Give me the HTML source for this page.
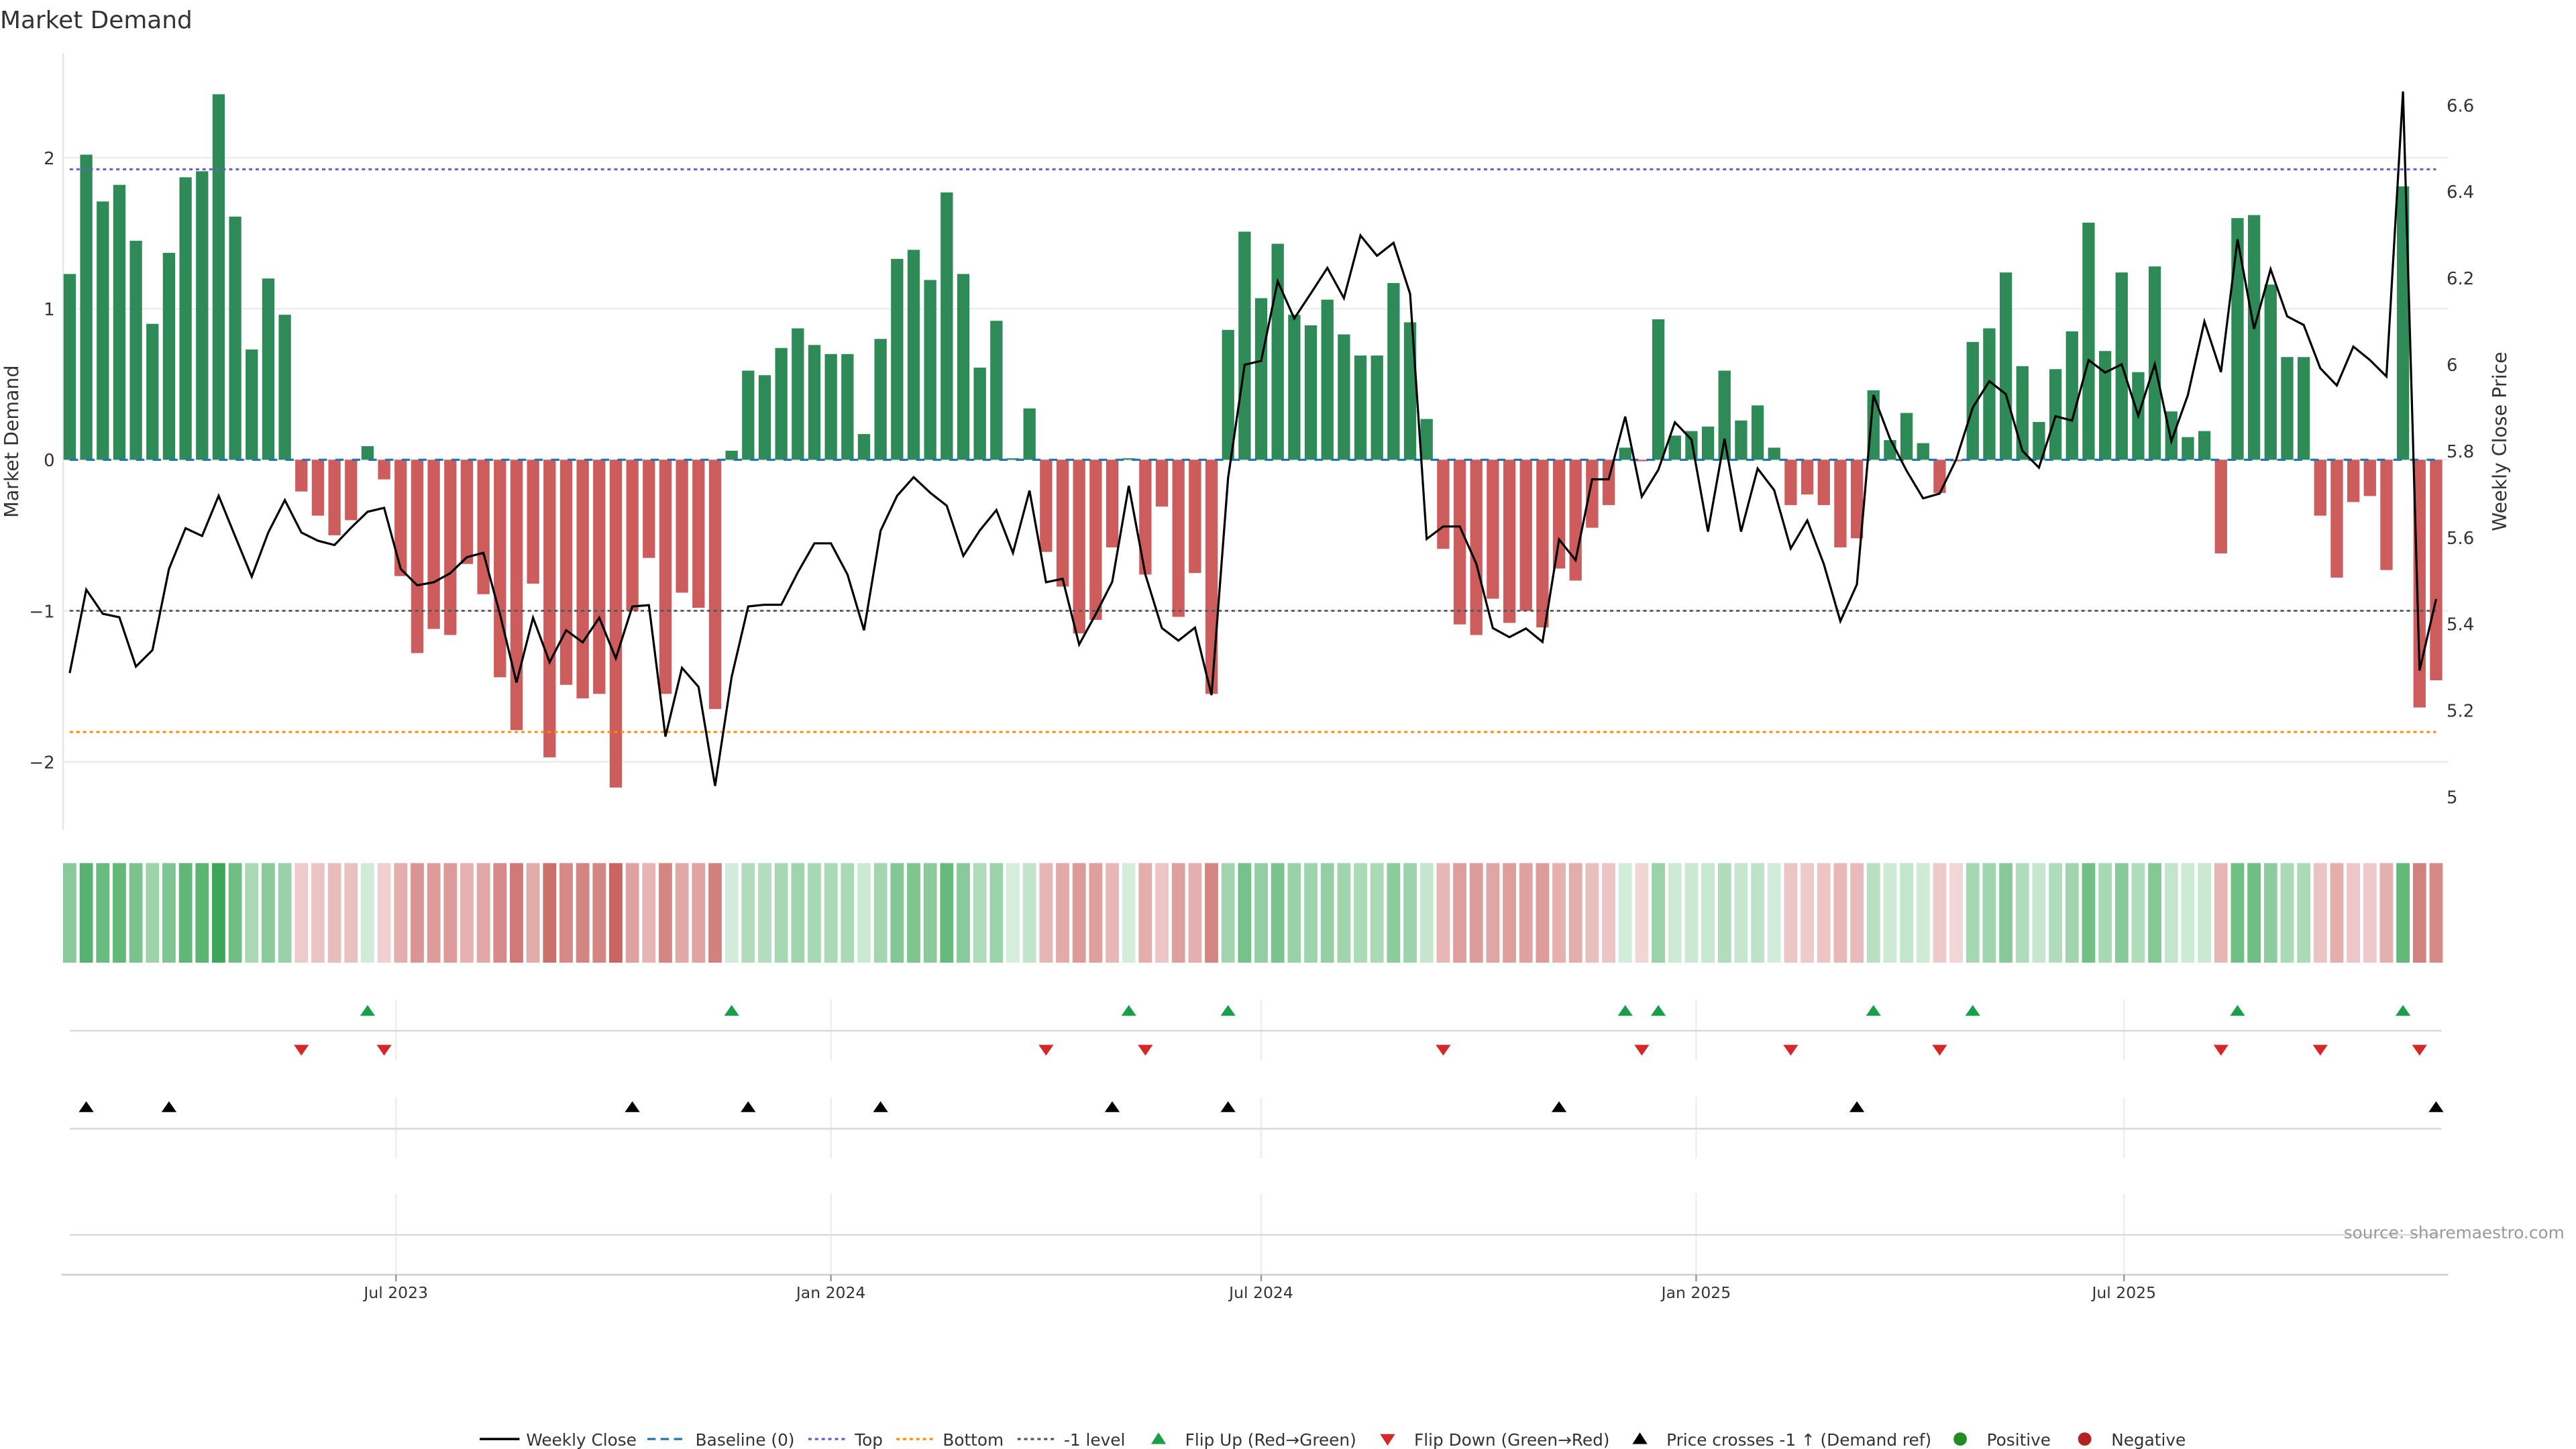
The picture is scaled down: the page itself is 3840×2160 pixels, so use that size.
<!DOCTYPE html>
<html><head><meta charset="utf-8"><title>Market Demand</title>
<style>
html,body{margin:0;padding:0;background:#fff;}
svg{display:block;font-family:"DejaVu Sans","Liberation Sans",sans-serif;}
</style></head>
<body>
<svg id="chart" width="3840" height="2160" viewBox="0 0 1552 873" preserveAspectRatio="none" xmlns="http://www.w3.org/2000/svg">
<text x="0" y="17" font-size="14.5" fill="#333">Market Demand</text>
<text transform="translate(11,266) rotate(-90)" text-anchor="middle" font-size="11.5" fill="#333">Market Demand</text>
<text transform="translate(1510,266) rotate(-90)" text-anchor="middle" font-size="11.5" fill="#333">Weekly Close Price</text>
<line x1="38" y1="32" x2="38" y2="500" stroke="#e6e6e6" stroke-width="1"/>
<g id="grid"></g>
<g id="bars"></g>
<g id="refs"></g>
<g id="price"></g>
<g id="heat"></g>
<g id="events"></g>
<g id="xaxis"></g>
<text x="1545" y="746" text-anchor="end" font-size="10" fill="#999">source: sharemaestro.com</text>
<g id="legend" font-size="10" fill="#333">
  <line x1="289" y1="867" x2="313" y2="867" stroke="#000" stroke-width="1.4"/>
  <text x="317" y="871">Weekly Close</text>
  <line x1="390" y1="867" x2="413" y2="867" stroke="#1f77b4" stroke-width="1.3" stroke-dasharray="5,3"/>
  <text x="419" y="871">Baseline (0)</text>
  <line x1="487" y1="867" x2="510" y2="867" stroke="#6a5acd" stroke-width="1.3" stroke-dasharray="2,2"/>
  <text x="515" y="871">Top</text>
  <line x1="540" y1="867" x2="563" y2="867" stroke="#ff8c00" stroke-width="1.3" stroke-dasharray="2,2"/>
  <text x="568" y="871">Bottom</text>
  <line x1="613" y1="867" x2="636" y2="867" stroke="#555" stroke-width="1.3" stroke-dasharray="2,2"/>
  <text x="641" y="871">-1 level</text>
  <polygon points="698,863 702.5,870 693.5,870" fill="#1a9e4a"/>
  <text x="714" y="871">Flip Up (Red→Green)</text>
  <polygon points="836,871 840.5,864 831.5,864" fill="#d62728"/>
  <text x="852" y="871">Flip Down (Green→Red)</text>
  <polygon points="988,863 992.5,870 983.5,870" fill="#000"/>
  <text x="1004" y="871">Price crosses -1 ↑ (Demand ref)</text>
  <circle cx="1181" cy="867" r="4" fill="#228b22"/>
  <text x="1197" y="871">Positive</text>
  <circle cx="1256" cy="867" r="4" fill="#b22222"/>
  <text x="1272" y="871">Negative</text>
</g>
</svg>
<script>
// ---- data ----
const startDate = "2023-02-13";
const demand = [1.23,2.02,1.71,1.82,1.45,0.90,1.37,1.87,1.91,2.42,1.61,0.73,1.20,0.96,
-0.21,-0.37,-0.50,-0.40,0.09,-0.13,-0.77,-1.28,-1.12,-1.16,-0.69,-0.89,-1.44,-1.79,-0.82,-1.97,-1.49,-1.58,-1.55,-2.17,-1.00,-0.65,-1.55,-0.88,-0.98,-1.65,
0.06,0.59,0.56,0.74,0.87,0.76,0.70,0.70,0.17,0.80,1.33,1.39,1.19,1.77,1.23,0.61,0.92,0.01,0.34,
-0.61,-0.84,-1.15,-1.06,-0.58,0.01,-0.76,-0.31,-1.04,-0.75,-1.55,
0.86,1.51,1.07,1.43,0.96,0.89,1.06,0.83,0.69,0.69,1.17,0.91,0.27,
-0.59,-1.09,-1.16,-0.92,-1.08,-1.00,-1.11,-0.72,-0.80,-0.45,-0.30,
0.08,-0.01,0.93,0.16,0.19,0.22,0.59,0.26,0.36,0.08,
-0.30,-0.23,-0.30,-0.58,-0.52,0.46,0.13,0.31,0.11,-0.22,-0.01,
0.78,0.87,1.24,0.62,0.25,0.60,0.85,1.57,0.72,1.24,0.58,1.28,0.32,0.15,0.19,
-0.62,1.60,1.62,1.16,0.68,0.68,-0.37,-0.78,-0.28,-0.24,-0.73,1.81,-1.64,-1.46];
const closePrice = [5.286,5.479,5.423,5.415,5.301,5.339,5.527,5.621,5.603,5.696,5.602,5.509,5.611,5.686,5.611,5.592,5.582,5.622,5.659,5.668,
5.527,5.489,5.496,5.517,5.554,5.564,5.422,5.264,5.414,5.311,5.385,5.357,5.414,5.320,5.440,5.443,5.139,5.298,5.254,5.025,
5.277,5.440,5.444,5.444,5.519,5.586,5.586,5.514,5.385,5.615,5.696,5.739,5.703,5.673,5.557,5.616,5.663,5.564,5.708,5.496,
5.504,5.352,5.422,5.497,5.719,5.514,5.390,5.361,5.391,5.235,5.737,5.999,6.008,6.192,6.106,6.164,6.223,6.153,6.298,6.251,
6.281,6.163,5.596,5.625,5.625,5.539,5.390,5.369,5.389,5.358,5.595,5.547,5.734,5.734,5.879,5.694,5.756,5.866,5.826,5.613,
5.828,5.613,5.759,5.709,5.574,5.639,5.538,5.406,5.491,5.929,5.828,5.754,5.690,5.701,5.780,5.900,5.961,5.931,5.800,5.761,
5.880,5.870,6.010,5.981,6.000,5.881,6.000,5.822,5.929,6.099,5.982,6.289,6.082,6.220,6.111,6.091,5.991,5.951,6.041,6.010,
5.972,6.631,5.292,5.457];
const leftTicks = [-2,-1,0,1,2];
const rightTicks = [5,5.2,5.4,5.6,5.8,6,6.2,6.4,6.6];
const rightTickLabels = ["5","5.2","5.4","5.6","5.8","6","6.2","6.4","6.6"];
const xTickDates = ["2023-07-01","2024-01-01","2024-07-01","2025-01-01","2025-07-01"];
const xTickLabels = ["Jul 2023","Jan 2024","Jul 2024","Jan 2025","Jul 2025"];
const topLevel = 1.923, bottomLevel = -1.802, minusLevel = -1;

// ---- scales ----
const NS = "http://www.w3.org/2000/svg";
const t0 = Date.parse(startDate);
const DAY = 86400000;
function xDate(ms){ return 42 + (ms - t0)/DAY * (9.97/7); }
function xIdx(i){ return xDate(t0 + i*7*DAY); }
function yL(v){ return 277 - 91*v; }
function yR(p){ return 480 - 260.5*(p-5); }
function mk(tag, parent, attrs){
  const e = document.createElementNS(NS, tag);
  for (const k in attrs) e.setAttribute(k, attrs[k]);
  document.getElementById(parent).appendChild(e);
  return e;
}
const X0 = 38, X1 = 1475;

leftTicks.forEach(v => {
  const g = mk('line','grid',{x1:X0,x2:X1,y1:yL(v),y2:yL(v),stroke:'#ececec','stroke-width':1});
  
  
  const t = mk('text','grid',{x:33,y:yL(v)+4,'text-anchor':'end','font-size':10.5,fill:'#333'});
  
  
  t.textContent = v < 0 ? '\u2212' + Math.abs(v) : String(v);
});
rightTicks.forEach((p, k) => {
  const t = mk('text','grid',{x:1474,y:yR(p)+4,'font-size':10.5,fill:'#333'});
  
  
  t.textContent = rightTickLabels[k];
});

demand.forEach((v, i) => {
  const x = xIdx(i), y0 = yL(0), y1 = yL(v);
  const b = mk('rect','bars',{x:x-3.7,width:7.4,y:Math.min(y0,y1),height:Math.max(Math.abs(y1-y0),0.3),fill: v>=0 ? '#2e8b57' : '#cd5c5c'});
  
  
});

const refDefs = [[0,'#1f77b4','5,5','baseline-line',1.3],[topLevel,'#6a5acd','2,2','top-line',1.2],[bottomLevel,'#ff8c00','2,2','bottom-line',1.2],[minusLevel,'#555','2,2','minus-one-line',1.1]];
refDefs.forEach(r => {
  const l = mk('line','refs',{x1:42,x2:xIdx(demand.length-1),y1:yL(r[0]),y2:yL(r[0]),stroke:r[1],'stroke-dasharray':r[2],'stroke-width':r[4]});
  
  
});

const pts = closePrice.map((p,i)=> xIdx(i).toFixed(2)+','+yR(p).toFixed(2)).join(' ');
const pl = mk('polyline','price',{points:pts,fill:'none',stroke:'#000','stroke-width':1.3,'stroke-linejoin':'miter'});



function heatColor(v){
  if (v >= 0){
    const t = Math.min(v/2.5,1);
    return `rgb(${Math.round(214-158*t)},${Math.round(238-74*t)},${Math.round(220-136*t)})`;
  }
  const t = Math.min(-v/2.2,1);
  return `rgb(${Math.round(242-42*t)},${Math.round(214-114*t)},${Math.round(214-118*t)})`;
}
demand.forEach((v,i) => {
  const c = mk('rect','heat',{x:xIdx(i)-4,width:8,y:520,height:60,fill:heatColor(v)});
  
  
});

const panelSegs = [[602,639],[661,698],[719,768]];
xTickDates.forEach(d => {
  const x = xDate(Date.parse(d));
  panelSegs.forEach(s => {
    const g = mk('line','events',{x1:x,x2:x,y1:s[0],y2:s[1],stroke:'#eeeeee','stroke-width':1});
    
    
  });
});
[[621,'flip-panel-line'],[680,'cross-panel-line'],[744,'empty-panel-line']].forEach(h => {
  const l = mk('line','events',{x1:42,x2:1471,y1:h[0],y2:h[0],stroke:'#d9d9d9','stroke-width':1});
  
  
});
const ax = mk('line','events',{x1:37,x2:1475,y1:768,y2:768,stroke:'#d0d0d0','stroke-width':1});



function tri(x, y, up, color, name){
  const p = up ? `${x},${y-3.5} ${x+4.5},${y+3} ${x-4.5},${y+3}` : `${x},${y+3.5} ${x+4.5},${y-3} ${x-4.5},${y-3}`;
  const t = mk('polygon','events',{points:p,fill:color});
  
  
}
const lvlPrice = 5 + (480 - yL(minusLevel))/260.5;
for (let i = 1; i < demand.length; i++){
  if (demand[i-1] < 0 && demand[i] >= 0) tri(xIdx(i), 609, true, '#1a9e4a', 'flip-up-marker');
  if (demand[i-1] >= 0 && demand[i] < 0) tri(xIdx(i), 632.5, false, '#d62728', 'flip-down-marker');
  if (closePrice[i-1] < lvlPrice && closePrice[i] >= lvlPrice) tri(xIdx(i), 667, true, '#000', 'price-cross-marker');
}

xTickDates.forEach((d,k) => {
  const x = xDate(Date.parse(d));
  const tk = mk('line','xaxis',{x1:x,x2:x,y1:768,y2:772,stroke:'#999','stroke-width':1});
  
  
  const t = mk('text','xaxis',{x:x,y:782,'text-anchor':'middle','font-size':9.5,fill:'#333'});
  
  
  t.textContent = xTickLabels[k];
});
</script>
</body></html>
